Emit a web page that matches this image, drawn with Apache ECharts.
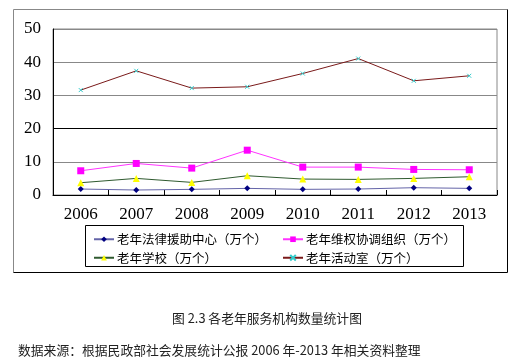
<!DOCTYPE html>
<html>
<head>
<meta charset="utf-8">
<script src="https://cdn.jsdelivr.net/npm/echarts@6/dist/echarts.min.js"></script>
<style>html,body{margin:0;padding:0;background:#fff}#c{width:518px;height:357px}</style>
</head>
<body>
<div id="c"></div>
<script>
var years = ['2006','2007','2008','2009','2010','2011','2012','2013'];
var yTicks = [0,10,20,30,40,50];
var seriesNames = ['老年法律援助中心（万个）','老年维权协调组织（万个）','老年学校（万个）','老年活动室（万个）'];
var legalAid = [1.8,1.5,1.7,2.0,1.7,1.8,2.2,2.0];
var rightsOrg = [7.3,9.5,8.1,13.5,8.4,8.4,7.7,7.6];
var schools = [3.7,5.0,3.8,5.8,4.8,4.7,5.0,5.5];
var activityRooms = [31.6,37.4,32.2,32.6,36.6,41.1,34.4,35.9];
var captionText = '图 2.3 各老年服务机构数量统计图';
var sourceText = '数据来源：根据民政部社会发展统计公报 2006 年-2013 年相关资料整理';

var chart = echarts.init(document.getElementById('c'), null, {renderer:'canvas'});
var cjk = '"Noto Sans CJK SC", sans-serif';
var serif = '"Liberation Serif", "DejaVu Serif", serif';
var crossPath = 'path://M0,0L10,10M10,0L0,10';

chart.setOption({
  animation: false,
  backgroundColor: '#fff',
  grid: {left: 53, top: 29, width: 444, height: 166, show: true, borderColor: '#888', borderWidth: 1, containLabel: false},
  xAxis: {
    type: 'category', data: years, boundaryGap: true,
    axisLine: {lineStyle: {color: '#000', width: 1}},
    axisTick: {show: true, inside: true, length: 5, lineStyle: {color: '#000'}},
    axisLabel: {color: '#000', fontFamily: serif, fontSize: 17, margin: 11}
  },
  yAxis: {
    type: 'value', min: 0, max: 50, interval: 10,
    axisLine: {show: true, lineStyle: {color: '#000'}},
    axisTick: {show: false},
    axisLabel: {color: '#000', fontFamily: serif, fontSize: 17, margin: 12,
      formatter: function(v){ return yTicks.indexOf(v) >= 0 ? String(v) : ''; }},
    splitLine: {show: true, lineStyle: {color: ['#888','#888','#000','#888','#888','#888'], width: 1}}
  },
  legend: [
    {left: 88, top: 228, orient: 'vertical', itemGap: 6, itemWidth: 20, itemHeight: 7,
     data: [seriesNames[0], seriesNames[2]],
     textStyle: {fontFamily: cjk, fontSize: 12.5, color: '#000', padding: [0,0,0,-2]}},
    {left: 277, top: 228, orient: 'vertical', itemGap: 6, itemWidth: 20, itemHeight: 7,
     data: [seriesNames[1], seriesNames[3]],
     textStyle: {fontFamily: cjk, fontSize: 12.5, color: '#000', padding: [0,0,0,-2]}}
  ],
  title: [
    {text: captionText, left: 262, textAlign: 'center', top: 307,
     textStyle: {fontFamily: cjk, fontSize: 12.8, fontWeight: 'normal', color: '#222'}},
    {text: sourceText, left: 13, top: 339,
     textStyle: {fontFamily: cjk, fontSize: 12.8, fontWeight: 'normal', color: '#222'}}
  ],
  graphic: [
    {type: 'line', shape: {x1: 13.5, y1: 9.5, x2: 507.5, y2: 9.5}, style: {stroke: '#888', lineWidth: 1}, silent: true},
    {type: 'line', shape: {x1: 13.5, y1: 9.5, x2: 13.5, y2: 272.5}, style: {stroke: '#888', lineWidth: 1}, silent: true},
    {type: 'line', shape: {x1: 507.5, y1: 9.5, x2: 507.5, y2: 272.5}, style: {stroke: '#000', lineWidth: 1}, silent: true},
    {type: 'line', shape: {x1: 13.5, y1: 272.5, x2: 507.5, y2: 272.5}, style: {stroke: '#000', lineWidth: 1}, silent: true},
    {type: 'rect', shape: {x: 85.5, y: 225.5, width: 378, height: 41}, style: {fill: 'none', stroke: '#000', lineWidth: 1}, silent: true}
  ],
  series: [
    {name: seriesNames[0], type: 'line', data: legalAid, symbol: 'diamond', symbolSize: 6,
     lineStyle: {color: '#6464a8', width: 1}, itemStyle: {color: '#000080'}},
    {name: seriesNames[1], type: 'line', data: rightsOrg, symbol: 'rect', symbolSize: 7,
     lineStyle: {color: '#ff33ff', width: 1}, itemStyle: {color: '#ff00ff'}},
    {name: seriesNames[2], type: 'line', data: schools, symbol: 'triangle', symbolSize: 7,
     lineStyle: {color: '#2f5a2f', width: 1}, itemStyle: {color: '#ffff00'}},
    {name: seriesNames[3], type: 'line', data: activityRooms, symbol: crossPath, symbolSize: 4,
     lineStyle: {color: '#7a1a1a', width: 1}, itemStyle: {color: '#33cccc', borderColor: '#33cccc', borderWidth: 1}}
  ]
});
</script>
</body>
</html>
